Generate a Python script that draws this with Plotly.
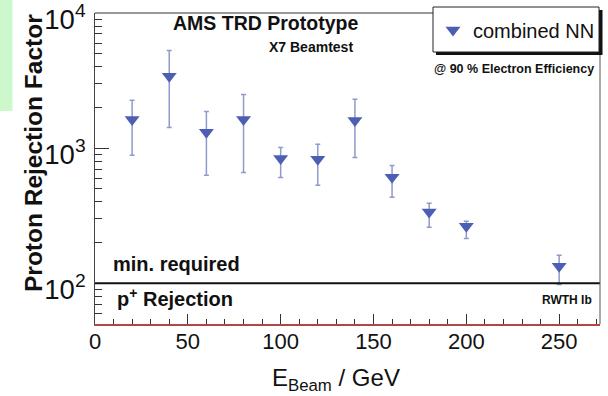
import math
import plotly.graph_objects as go

# ---- data ----
energy = [20, 40, 60, 80, 100, 120, 140, 160, 180, 200, 250]
rejection = [1630, 3400, 1310, 1630, 840, 830, 1600, 610, 337, 265, 134]
upper = [2260, 5290, 1870, 2500, 1010, 1070, 2300, 746, 391, 288, 161]
lower = [885, 1425, 630, 662, 608, 531, 855, 433, 260, 215, 98]
min_required = 100
x_range = [0, 272]
y_range = [50, 10010]

err_plus = [u - v for u, v in zip(upper, rejection)]
err_minus = [v - l for v, l in zip(rejection, lower)]

W, H = 608, 396
L, R, T, B = 95, 600, 13, 324


def px(x):
    return (x - L) / (R - L)


def py(y):
    return (B - y) / (B - T)


FONT = "Liberation Sans, Arial, Helvetica, sans-serif"
MARK = "#4d5fb3"
ERR = "#8e9bcc"

fig = go.Figure()
fig.add_trace(go.Scatter(
    x=energy, y=rejection, mode="markers", name="combined NN",
    marker=dict(symbol="triangle-down", size=13, color=MARK, line=dict(width=0)),
    error_y=dict(type="data", symmetric=False, array=err_plus, arrayminus=err_minus,
                 color=ERR, thickness=1.5, width=2.5),
))

ylog0, ylog1 = math.log10(y_range[0]), math.log10(y_range[1])
y100 = (math.log10(min_required) - ylog0) / (ylog1 - ylog0)

shapes = [
    # green tab at top left
    dict(type="rect", xref="paper", yref="paper", x0=px(0), x1=px(12.5), y0=py(0), y1=py(111),
         fillcolor="#ccf8cc", line=dict(width=0), layer="below"),
    # min required line
    dict(type="line", xref="paper", yref="paper", x0=0, x1=1, y0=y100, y1=y100,
         line=dict(color="#111111", width=2)),
    # frame top & right
    dict(type="line", xref="paper", yref="paper", x0=0, x1=1, y0=1, y1=1,
         line=dict(color="#333333", width=1)),
    dict(type="line", xref="paper", yref="paper", x0=1, x1=1, y0=0, y1=1,
         line=dict(color="#555555", width=1)),
    # legend shadow & box
    dict(type="rect", xref="paper", yref="paper", x0=px(436), x1=px(602.5), y0=py(55), y1=py(10),
         fillcolor="#111111", line=dict(width=0)),
    dict(type="rect", xref="paper", yref="paper", x0=px(433), x1=px(599), y0=py(52), y1=py(7),
         fillcolor="white", line=dict(color="#222222", width=1)),
]

ann = []


def text(s, x, y, size, xanchor="center", bold=True, angle=0, yanchor="middle"):
    ann.append(dict(text=("<b>%s</b>" % s) if bold else s, x=px(x), y=py(y), xref="paper", yref="paper",
                    xanchor=xanchor, yanchor=yanchor, showarrow=False, textangle=angle,
                    font=dict(family=FONT, size=size, color="#111111")))


text("AMS TRD Prototype", 265, 23, 19.5)
text("X7 Beamtest", 355, 47, 14, xanchor="right")
text("@ 90 % Electron Efficiency", 596, 69, 12.5, xanchor="right")
text("min. required", 111, 264, 20, xanchor="left")
text("p<sup>+</sup> Rejection", 115, 297, 20, xanchor="left")
text("RWTH Ib", 594, 300, 12, xanchor="right")
text("Proton Rejection Factor", 33, 153, 24.5, angle=-90)
text("E<sub>Beam</sub> / GeV", 336, 379, 24, bold=False)

fig.update_layout(
    width=W, height=H, autosize=False,
    margin=dict(l=L, r=W - R, t=T, b=H - B, pad=0, autoexpand=False),
    paper_bgcolor="white", plot_bgcolor="white",
    shapes=shapes, annotations=ann,
    showlegend=True,
    legend=dict(x=px(433), y=py(30), xanchor="left", yanchor="middle",
                bgcolor="rgba(0,0,0,0)", borderwidth=0,
                font=dict(family=FONT, size=20, color="#111111")),
    xaxis=dict(range=x_range, tick0=0, dtick=50, ticks="inside", ticklen=10, tickwidth=1,
               tickcolor="#333333", showline=True, linecolor="#b04848", linewidth=1.5,
               showgrid=False, zeroline=False, automargin=False, ticklabeloverflow="allow",
               ticklabelstandoff=-3,
               tickfont=dict(family=FONT, size=22, color="#111111"),
               minor=dict(dtick=10, ticks="inside", ticklen=5, tickcolor="#333333", showgrid=False)),
    yaxis=dict(type="log", range=[ylog0, ylog1], dtick=1, tick0=0, exponentformat="power",
               ticks="inside", ticklen=14, tickwidth=1, tickcolor="#333333",
               showline=True, linecolor="#444444", linewidth=1, automargin=False,
               showgrid=False, zeroline=False, ticklabelstandoff=4, ticklabelshift=6,
               ticklabeloverflow="allow",
               tickfont=dict(family=FONT, size=22, color="#111111"),
               minor=dict(dtick="D1", ticks="inside", ticklen=7, tickcolor="#333333", showgrid=False)),
)

fig.write_html("out.html", config={"displayModeBar": False},
               post_script="document.body.style.margin='0';")
